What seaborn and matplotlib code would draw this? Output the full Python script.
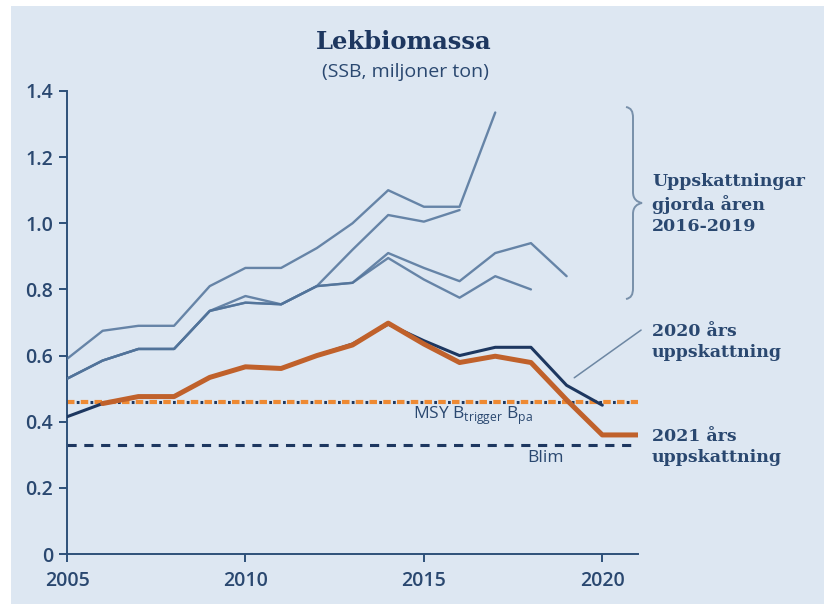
import matplotlib
matplotlib.use("Agg")
import matplotlib.pyplot as plt
import seaborn as sns
import pandas as pd
from matplotlib.path import Path
from matplotlib.patches import PathPatch, Rectangle

# SSB estimates (million tonnes)
years = list(range(2005, 2022))
est_2016 = [0.53, 0.585, 0.62, 0.62, 0.735, 0.76, 0.755, 0.81, 0.92, 1.025, 1.005, 1.04]
est_2017 = [0.59, 0.675, 0.69, 0.69, 0.81, 0.865, 0.865, 0.925, 1.0, 1.10, 1.05, 1.05, 1.335]
est_2018 = [0.53, 0.585, 0.62, 0.62, 0.735, 0.76, 0.755, 0.81, 0.82, 0.895, 0.83, 0.775, 0.84, 0.80]
est_2019 = [0.53, 0.585, 0.62, 0.62, 0.735, 0.78, 0.755, 0.81, 0.82, 0.91, 0.865, 0.825, 0.91, 0.94, 0.84]
est_2020 = [0.415, 0.455, 0.476, 0.476, 0.534, 0.566, 0.561, 0.60, 0.635, 0.695, 0.645, 0.60, 0.625,
            0.625, 0.51, 0.45]
years_2021 = list(range(2006, 2022))
est_2021 = [0.455, 0.476, 0.476, 0.534, 0.566, 0.561, 0.60, 0.632, 0.698, 0.635, 0.579, 0.598, 0.579,
            0.466, 0.36, 0.36]

msy_btrigger = 0.46
blim = 0.33

y_ticks = [0, 0.2, 0.4, 0.6, 0.8, 1.0, 1.2, 1.4]
y_ticklabels = ["0", "0.2", "0.4", "0.6", "0.8", "1.0", "1.2", "1.4"]
x_ticks = [2005, 2010, 2015, 2020]

BG = "#dde7f2"
NAVY = "#1d3760"
TEXT = "#2a4870"
OLD = "#51739a"
ORANGE = "#c0612b"
ORANGE_DASH = "#ee8a33"

sns.set_theme(style="white", rc={"figure.facecolor": BG, "axes.facecolor": BG})
plt.rcParams["font.family"] = ["Open Sans", "DejaVu Sans"]

fig = plt.figure(figsize=(8.24, 6.04), dpi=100)
fig.patch.set_facecolor("white")
fig.patches.append(Rectangle((11 / 824, 0), 1, 1 - 6 / 604, transform=fig.transFigure,
                             facecolor=BG, edgecolor="none", zorder=-10))
ax = fig.add_axes([67 / 824, 1 - 554 / 604, 571 / 824, 463 / 604])
ax.set_facecolor(BG)

# older estimates
for vals in [est_2016, est_2017, est_2018, est_2019]:
    df = pd.DataFrame({"year": years[:len(vals)], "ssb": vals})
    sns.lineplot(data=df, x="year", y="ssb", ax=ax, color=OLD, lw=1.7, alpha=0.85, zorder=3)

# reference levels: orange dashes with navy dots in the gaps
ax.axhline(msy_btrigger, color=ORANGE_DASH, lw=3, ls=(0, (1.8, 1.5)), zorder=2)
ax.axhline(msy_btrigger, color=NAVY, lw=2.2, ls=(1.47, (0.9, 3.6)), zorder=2.5)
ax.axhline(blim, color=NAVY, lw=2.2, ls=(0, (3, 2.5)), zorder=2)

df20 = pd.DataFrame({"year": years[:len(est_2020)], "ssb": est_2020})
sns.lineplot(data=df20, x="year", y="ssb", ax=ax, color=NAVY, lw=2.2, zorder=4)
df21 = pd.DataFrame({"year": years_2021, "ssb": est_2021})
sns.lineplot(data=df21, x="year", y="ssb", ax=ax, color=ORANGE, lw=3.6, zorder=5)

ax.set_xlim(2005, 2021)
ax.set_ylim(0, 1.4)
ax.set_xticks(x_ticks)
ax.set_xticklabels([str(x) for x in x_ticks])
ax.set_yticks(y_ticks)
ax.set_yticklabels(y_ticklabels)
ax.set_xlabel("")
ax.set_ylabel("")
for side in ["top", "right"]:
    ax.spines[side].set_visible(False)
for side in ["left", "bottom"]:
    ax.spines[side].set_color("#2e5079")
    ax.spines[side].set_linewidth(1.4)
ax.tick_params(axis="both", colors="#2e5079", length=6, width=1.4, direction="out",
               labelcolor=TEXT, labelsize=14, bottom=True, left=True)
ax.tick_params(axis="x", pad=6)
ax.tick_params(axis="y", pad=4)
for lab in ax.get_xticklabels() + ax.get_yticklabels():
    lab.set_fontweight("semibold")

ax.text(2014.7, 0.417, r"MSY B$_{\mathregular{trigger}}$ B$_{\mathregular{pa}}$", color=TEXT,
        fontsize=12.5, ha="left", va="center")
ax.text(2018.4, 0.29, "Blim", color=TEXT, fontsize=12.5, ha="center", va="center")

# pointer to the 2020 estimate
ax.annotate("", xy=(2019.15, 0.528), xytext=(2021.15, 0.682),
            arrowprops=dict(arrowstyle="-", color="#6d87a3", lw=1.1), annotation_clip=False)

serif = ["DejaVu Serif"]
lab_kw = dict(family=serif, fontweight="bold", fontsize=12.5, color=TEXT, ha="left",
              va="center", linespacing=1.3)
fig.text(652 / 824, 1 - 342 / 604, "2020 års\nuppskattning", **lab_kw)
fig.text(652 / 824, 1 - 447 / 604, "2021 års\nuppskattning", **lab_kw)
fig.text(652 / 824, 1 - 204 / 604, "Uppskattningar\ngjorda åren\n2016-2019", **lab_kw)

# curly brace
def fp(x, y):
    return (x / 824, 1 - y / 604)

verts = [fp(626, 107), fp(631, 108), fp(633, 111), fp(633, 118),
         fp(633, 192),
         fp(633, 199), fp(637, 202), fp(642, 203),
         fp(637, 204), fp(633, 207), fp(633, 214),
         fp(633, 288),
         fp(633, 295), fp(631, 298), fp(626, 299)]
codes = [Path.MOVETO, Path.CURVE4, Path.CURVE4, Path.CURVE4,
         Path.LINETO,
         Path.CURVE4, Path.CURVE4, Path.CURVE4,
         Path.CURVE4, Path.CURVE4, Path.CURVE4,
         Path.LINETO,
         Path.CURVE4, Path.CURVE4, Path.CURVE4]
fig.patches.append(PathPatch(Path(verts, codes), transform=fig.transFigure, fill=False,
                             edgecolor="#7890aa", lw=1.4))

fig.text(404 / 824, 1 - 42 / 604, "Lekbiomassa", family=serif, fontweight="bold", fontsize=17.5,
         color=NAVY, ha="center", va="center")
fig.text(405 / 824, 1 - 72 / 604, "(SSB, miljoner ton)", fontsize=14, color=TEXT,
         ha="center", va="center")

fig.savefig("out.png", dpi=100, facecolor=fig.get_facecolor())
